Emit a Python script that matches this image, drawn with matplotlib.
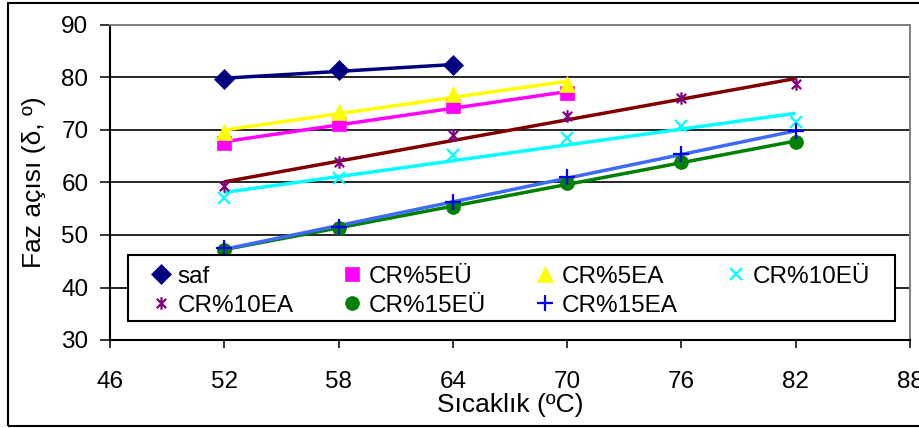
import numpy as np
import matplotlib
matplotlib.use("Agg")
import matplotlib.pyplot as plt
from matplotlib.path import Path
from matplotlib.patches import Rectangle

plt.rcParams['font.family'] = ['Liberation Sans', 'DejaVu Sans']

# ---- data ----
temps = [52, 58, 64, 70, 76, 82]
saf = [79.7, 81.5, 82.3]
cr5eu = [67.5, 71.2, 74.5, 77.0]
cr5ea = [69.6, 73.4, 76.8, 78.8]
cr10eu = [57.0, 60.9, 65.2, 68.5, 70.8, 71.5]
cr10ea = [59.3, 63.9, 69.0, 72.7, 76.1, 78.8]
cr15eu = [47.2, 51.3, 55.4, 59.9, 63.9, 67.7]
cr15ea = [47.5, 51.5, 56.2, 61.0, 65.4, 69.8]

labels = ["saf", "CR%5EÜ", "CR%5EA", "CR%10EÜ", "CR%10EA", "CR%15EÜ", "CR%15EA"]
series = [saf, cr5eu, cr5ea, cr10eu, cr10ea, cr15eu, cr15ea]

x_ticks = [46, 52, 58, 64, 70, 76, 82, 88]
y_ticks = [30, 40, 50, 60, 70, 80, 90]

# ---- styles ----
star = Path([(0, -1), (0, 1), (-0.75, -0.75), (0.75, 0.75), (-0.75, 0.75), (0.75, -0.75)],
            [Path.MOVETO, Path.LINETO, Path.MOVETO, Path.LINETO, Path.MOVETO, Path.LINETO])
styles = [
    dict(marker='D', mc='#000080', lc='#000080', ms=10, filled=True),
    dict(marker='s', mc='#FF00FF', lc='#FF00FF', ms=9.5, filled=True),
    dict(marker='^', mc='#FFFF00', lc='#FFFF00', ms=11.5, filled=True),
    dict(marker='x', mc='#00FFFF', lc='#00FFFF', ms=9, filled=False),
    dict(marker=star, mc='#800080', lc='#800000', ms=9, filled=False),
    dict(marker='o', mc='#008000', lc='#008000', ms=10, filled=True),
    dict(marker='+', mc='#0000FF', lc='#3D6BF5', ms=11, filled=False),
]

fig = plt.figure(figsize=(9.2, 4.28), dpi=100)
ax = fig.add_axes([110/920, 1-340/428, 800/920, 315/428])

handles = []
for vals, lab, st in zip(series, labels, styles):
    xs = np.array(temps[:len(vals)], dtype=float)
    ys = np.array(vals, dtype=float)
    k, b = np.polyfit(xs, ys, 1)
    xx = np.array([xs[0], xs[-1]])
    ax.plot(xx, k*xx + b, color=st['lc'], lw=2.5, zorder=3, solid_capstyle='butt')
    if st['filled']:
        h, = ax.plot(xs, ys, linestyle='none', marker=st['marker'], ms=st['ms'],
                     markerfacecolor=st['mc'], markeredgecolor=st['mc'], markeredgewidth=0.5,
                     zorder=4, label=lab)
    else:
        h, = ax.plot(xs, ys, linestyle='none', marker=st['marker'], ms=st['ms'],
                     color=st['mc'], markeredgewidth=1.6, zorder=4, label=lab)
    handles.append(h)

ax.set_xlim(46, 88)
ax.set_ylim(30, 90)
ax.set_xticks(x_ticks)
ax.set_yticks(y_ticks)
ax.set_xticklabels([str(v) for v in x_ticks])
ax.set_yticklabels([str(v) for v in y_ticks])
ax.tick_params(axis='y', direction='out', length=7, width=1.1, pad=8.5, labelsize=17.5)
ax.tick_params(axis='x', direction='out', length=6, width=1.1, pad=16, labelsize=17.5)
ax.yaxis.grid(True, color='black', lw=1.2, zorder=1)
ax.set_axisbelow(True)

for s in ['left', 'bottom']:
    ax.spines[s].set_color('black')
    ax.spines[s].set_linewidth(1.5)
for s in ['top', 'right']:
    ax.spines[s].set_color('#808080')
    ax.spines[s].set_linewidth(1.4)

ax.set_xlabel("Sıcaklık (ºC)", fontsize=19, labelpad=0)
ax.set_ylabel("Faz açısı (δ, º)", fontsize=19, labelpad=11)

# legend box
box_l, box_r = 18/800, 785/800
box_b, box_t = (340-321)/315, (340-255)/315
ax.add_patch(Rectangle((box_l, box_b), box_r-box_l, box_t-box_b, transform=ax.transAxes,
                       facecolor='white', edgecolor='black', lw=1.5, zorder=8))

# legend rows filled row-wise: reorder for column-major layout
order = [0, 4, 1, 5, 2, 6, 3]
leg = ax.legend([handles[i] for i in order], [labels[i] for i in order],
                ncol=4, loc='center',
                bbox_to_anchor=((box_l+box_r)/2 - 0.002, (box_b+box_t)/2 - 0.01),
                borderaxespad=0, fontsize=17.5, frameon=False,
                handlelength=0.9, handletextpad=0.25,
                labelspacing=0.28, borderpad=0.0, columnspacing=1.95)
leg.set_zorder(10)

fig.patches.append(Rectangle((8/920, 1-426/428), 1.2, 423/428, transform=fig.transFigure,
                             fill=False, edgecolor='black', lw=1.5, zorder=0))

fig.savefig("out.png", dpi=100)
